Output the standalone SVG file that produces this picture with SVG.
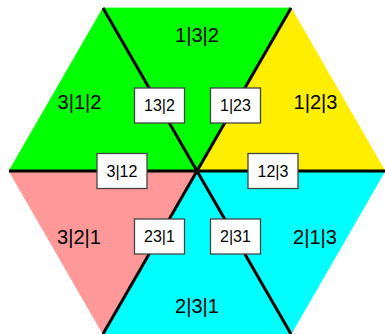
<svg xmlns="http://www.w3.org/2000/svg" width="385" height="334" viewBox="0 0 385 334">
  <style>
    .big { font-family: "Liberation Sans", Arial, sans-serif; font-size: 20px; fill: #000; text-anchor: middle; }
    .small { font-family: "Liberation Sans", Arial, sans-serif; font-size: 16px; fill: #000; text-anchor: middle; }
    .box { fill: #fff; stroke: #444; stroke-width: 1.3; }
    .cut { stroke: #000; stroke-width: 3; fill: none; }
  </style>
  <rect width="385" height="334" fill="#fff"/>
  <g id="r132">
    <polygon points="103,8 291,8 197,171" fill="#00ff00" stroke="#00ff00" stroke-width="0.8"/>
    <text class="big" x="197" y="42">1|3|2</text>
  </g>
  <g id="r312">
    <polygon points="9,171 103,8 197,171" fill="#00ff00" stroke="#00ff00" stroke-width="0.8"/>
    <text class="big" x="79.5" y="109">3|1|2</text>
  </g>
  <g id="r123">
    <polygon points="291,8 385,171 197,171" fill="#ffee00" stroke="#ffee00" stroke-width="0.8"/>
    <text class="big" x="315.5" y="109">1|2|3</text>
  </g>
  <g id="r213">
    <polygon points="385,171 291,334 197,171" fill="#00ffff" stroke="#00ffff" stroke-width="0.8"/>
    <text class="big" x="315" y="244">2|1|3</text>
  </g>
  <g id="r231">
    <polygon points="291,334 103,334 197,171" fill="#00ffff" stroke="#00ffff" stroke-width="0.8"/>
    <text class="big" x="197" y="313">2|3|1</text>
  </g>
  <g id="r321">
    <polygon points="103,334 9,171 197,171" fill="#ff9999" stroke="#ff9999" stroke-width="0.8"/>
    <text class="big" x="79" y="244">3|2|1</text>
  </g>
  <g id="connectors">
    <line class="cut" x1="103" y1="8" x2="291" y2="334"/>
    <line class="cut" x1="291" y1="8" x2="103" y2="334"/>
    <line class="cut" x1="9" y1="171" x2="385" y2="171"/>
  </g>
  <g id="b3_12">
    <rect class="box" x="97" y="153.5" width="50" height="35"/>
    <text class="small" x="122" y="176.5">3|12</text>
  </g>
  <g id="b13_2">
    <rect class="box" x="134.5" y="88" width="50" height="35"/>
    <text class="small" x="159.5" y="111">13|2</text>
  </g>
  <g id="b1_23">
    <rect class="box" x="210.5" y="88" width="50" height="35"/>
    <text class="small" x="235.5" y="111">1|23</text>
  </g>
  <g id="b12_3">
    <rect class="box" x="248" y="153.5" width="50" height="35"/>
    <text class="small" x="273" y="176.5">12|3</text>
  </g>
  <g id="b23_1">
    <rect class="box" x="134.5" y="219" width="50" height="35"/>
    <text class="small" x="159.5" y="242">23|1</text>
  </g>
  <g id="b2_31">
    <rect class="box" x="210.5" y="219" width="50" height="35"/>
    <text class="small" x="235.5" y="242">2|31</text>
  </g>
</svg>
